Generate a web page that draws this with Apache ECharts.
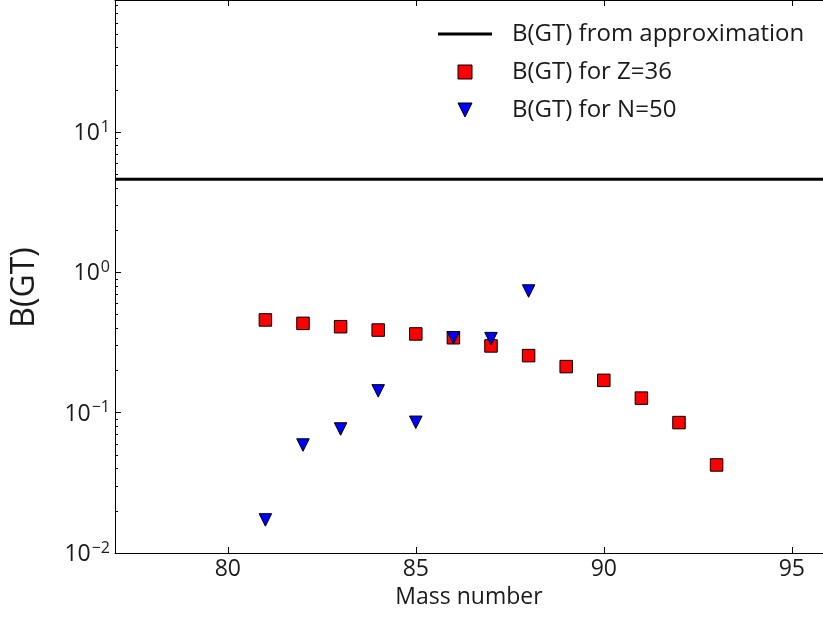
<!DOCTYPE html>
<html>
<head>
<meta charset="utf-8">
<script src="https://cdn.jsdelivr.net/npm/echarts@6/dist/echarts.min.js"></script>
<style>
html,body{margin:0;padding:0;background:#fff;}
#chart{width:823px;height:620px;}
</style>
</head>
<body>
<div id="chart"></div>
<script>
// ---- data ----
const massZ36 = [81, 82, 83, 84, 85, 86, 87, 88, 89, 90, 91, 92, 93];
const bgtZ36  = [0.458, 0.433, 0.410, 0.388, 0.364, 0.342, 0.299, 0.255, 0.213, 0.170, 0.127, 0.085, 0.0424];
const massN50 = [81, 82, 83, 84, 85, 86, 87, 88];
const bgtN50  = [0.0172, 0.0588, 0.0765, 0.143, 0.0854, 0.342, 0.337, 0.736];
const bgtApprox = 4.6;
const xTicks = [80, 85, 90, 95];
const yTicks = [0.01, 0.1, 1, 10];
const yTickExps = ['\u22122', '\u22121', '0', '1'];
const seriesNames = ['B(GT) from approximation', 'B(GT) for Z=36', 'B(GT) for N=50'];
const xName = 'Mass number';
const yName = 'B(GT)';

// ---- axis ranges (the plot is cropped at the right and top edges) ----
const xMin = 77, xMax = 95.83;
const yMin = 0.01, yMax = 87.3;

const minorTicks = [];
for (let e = -2; e <= 1; e++) {
  for (let m = 2; m <= 9; m++) minorTicks.push(m * Math.pow(10, e));
}

const FONT = 'Open Sans';
const TXT = '#1a1a1a';

const chart = echarts.init(document.getElementById('chart'), null, {renderer: 'canvas'});

const zipPts = (xs, ys) => xs.map((x, i) => [x, ys[i]]);

const option = {
  backgroundColor: '#fff',
  animation: false,
  textStyle: {fontFamily: FONT, color: TXT},
  grid: {left: 115, top: 0, right: 0, bottom: 67, containLabel: false},
  legend: {
    orient: 'vertical',
    left: 433,
    top: 17,
    itemWidth: 54,
    itemHeight: 14,
    itemGap: 14,
    selectedMode: false,
    textStyle: {fontFamily: FONT, fontSize: 24, color: TXT, padding: [0, 0, 0, 15]},
    data: [
      {name: seriesNames[0], icon: 'path://M0,0H54V3H0Z', itemStyle: {color: '#000', borderWidth: 0}},
      {name: seriesNames[1], icon: 'path://M0,0H10V10H0Z', itemStyle: {color: '#ff0000', borderColor: '#000', borderWidth: 1}},
      {name: seriesNames[2], icon: 'path://M0,0H10L5,10Z', itemStyle: {color: '#0000ff', borderColor: '#000', borderWidth: 1}}
    ]
  },
  xAxis: [
    {
      type: 'value', min: xMin, max: xMax, position: 'bottom',
      name: xName, nameLocation: 'middle', nameGap: 30,
      nameTextStyle: {fontFamily: FONT, fontSize: 23, color: TXT},
      axisLine: {show: true, lineStyle: {color: '#000', width: 1}},
      axisTick: {show: true, inside: true, length: 6, customValues: xTicks, lineStyle: {color: '#000'}},
      axisLabel: {show: true, customValues: xTicks, margin: 5, fontFamily: FONT, fontSize: 23, color: TXT},
      splitLine: {show: false}
    },
    {
      type: 'value', min: xMin, max: xMax, position: 'top',
      axisLine: {show: true, lineStyle: {color: '#000', width: 1}},
      axisTick: {show: true, inside: true, length: 6, customValues: xTicks, lineStyle: {color: '#000'}},
      axisLabel: {show: false},
      splitLine: {show: false}
    }
  ],
  yAxis: [
    {
      type: 'log', logBase: 10, min: yMin, max: yMax, position: 'left',
      name: yName, nameLocation: 'middle', nameGap: 74,
      nameTextStyle: {fontFamily: FONT, fontSize: 32, color: TXT, padding: [0, 22, 0, 0]},
      axisLine: {show: true, lineStyle: {color: '#000', width: 1}},
      axisTick: {show: true, inside: true, length: 6, customValues: yTicks, lineStyle: {color: '#000'}},
      axisLabel: {
        show: true, customValues: yTicks, margin: 5,
        formatter: function (v) {
          const i = yTicks.findIndex(t => Math.abs(t - v) / t < 1e-6);
          return '{b|10}{s|' + (i >= 0 ? yTickExps[i] : '') + '}';
        },
        rich: {
          b: {fontFamily: FONT, fontSize: 23, color: TXT, lineHeight: 26, verticalAlign: 'bottom'},
          s: {fontFamily: FONT, fontSize: 16, color: TXT, lineHeight: 26, verticalAlign: 'top', padding: [0, 0, 8, 1]}
        }
      },
      splitLine: {show: false}
    },
    {
      type: 'log', logBase: 10, min: yMin, max: yMax, position: 'left',
      axisLine: {show: false},
      axisTick: {show: true, inside: true, length: 3, customValues: minorTicks, lineStyle: {color: '#000'}},
      axisLabel: {show: false},
      splitLine: {show: false}
    }
  ],
  series: [
    {
      name: seriesNames[0], type: 'line', xAxisIndex: 0, yAxisIndex: 0,
      data: [[xMin, bgtApprox], [xMax, bgtApprox]],
      symbol: 'none', lineStyle: {color: '#000', width: 3}, itemStyle: {color: '#000'},
      silent: true, z: 2
    },
    {
      name: seriesNames[1], type: 'scatter', xAxisIndex: 0, yAxisIndex: 0,
      data: zipPts(massZ36, bgtZ36),
      symbol: 'rect', symbolSize: 12.5,
      itemStyle: {color: '#ff0000', borderColor: '#000', borderWidth: 1, opacity: 1},
      z: 3
    },
    {
      name: seriesNames[2], type: 'scatter', xAxisIndex: 0, yAxisIndex: 0,
      data: zipPts(massN50, bgtN50),
      symbol: 'triangle', symbolRotate: 180, symbolSize: 12.5,
      itemStyle: {color: '#0000ff', borderColor: '#000', borderWidth: 1, opacity: 1},
      z: 4
    }
  ]
};
chart.setOption(option);
</script>
</body>
</html>
